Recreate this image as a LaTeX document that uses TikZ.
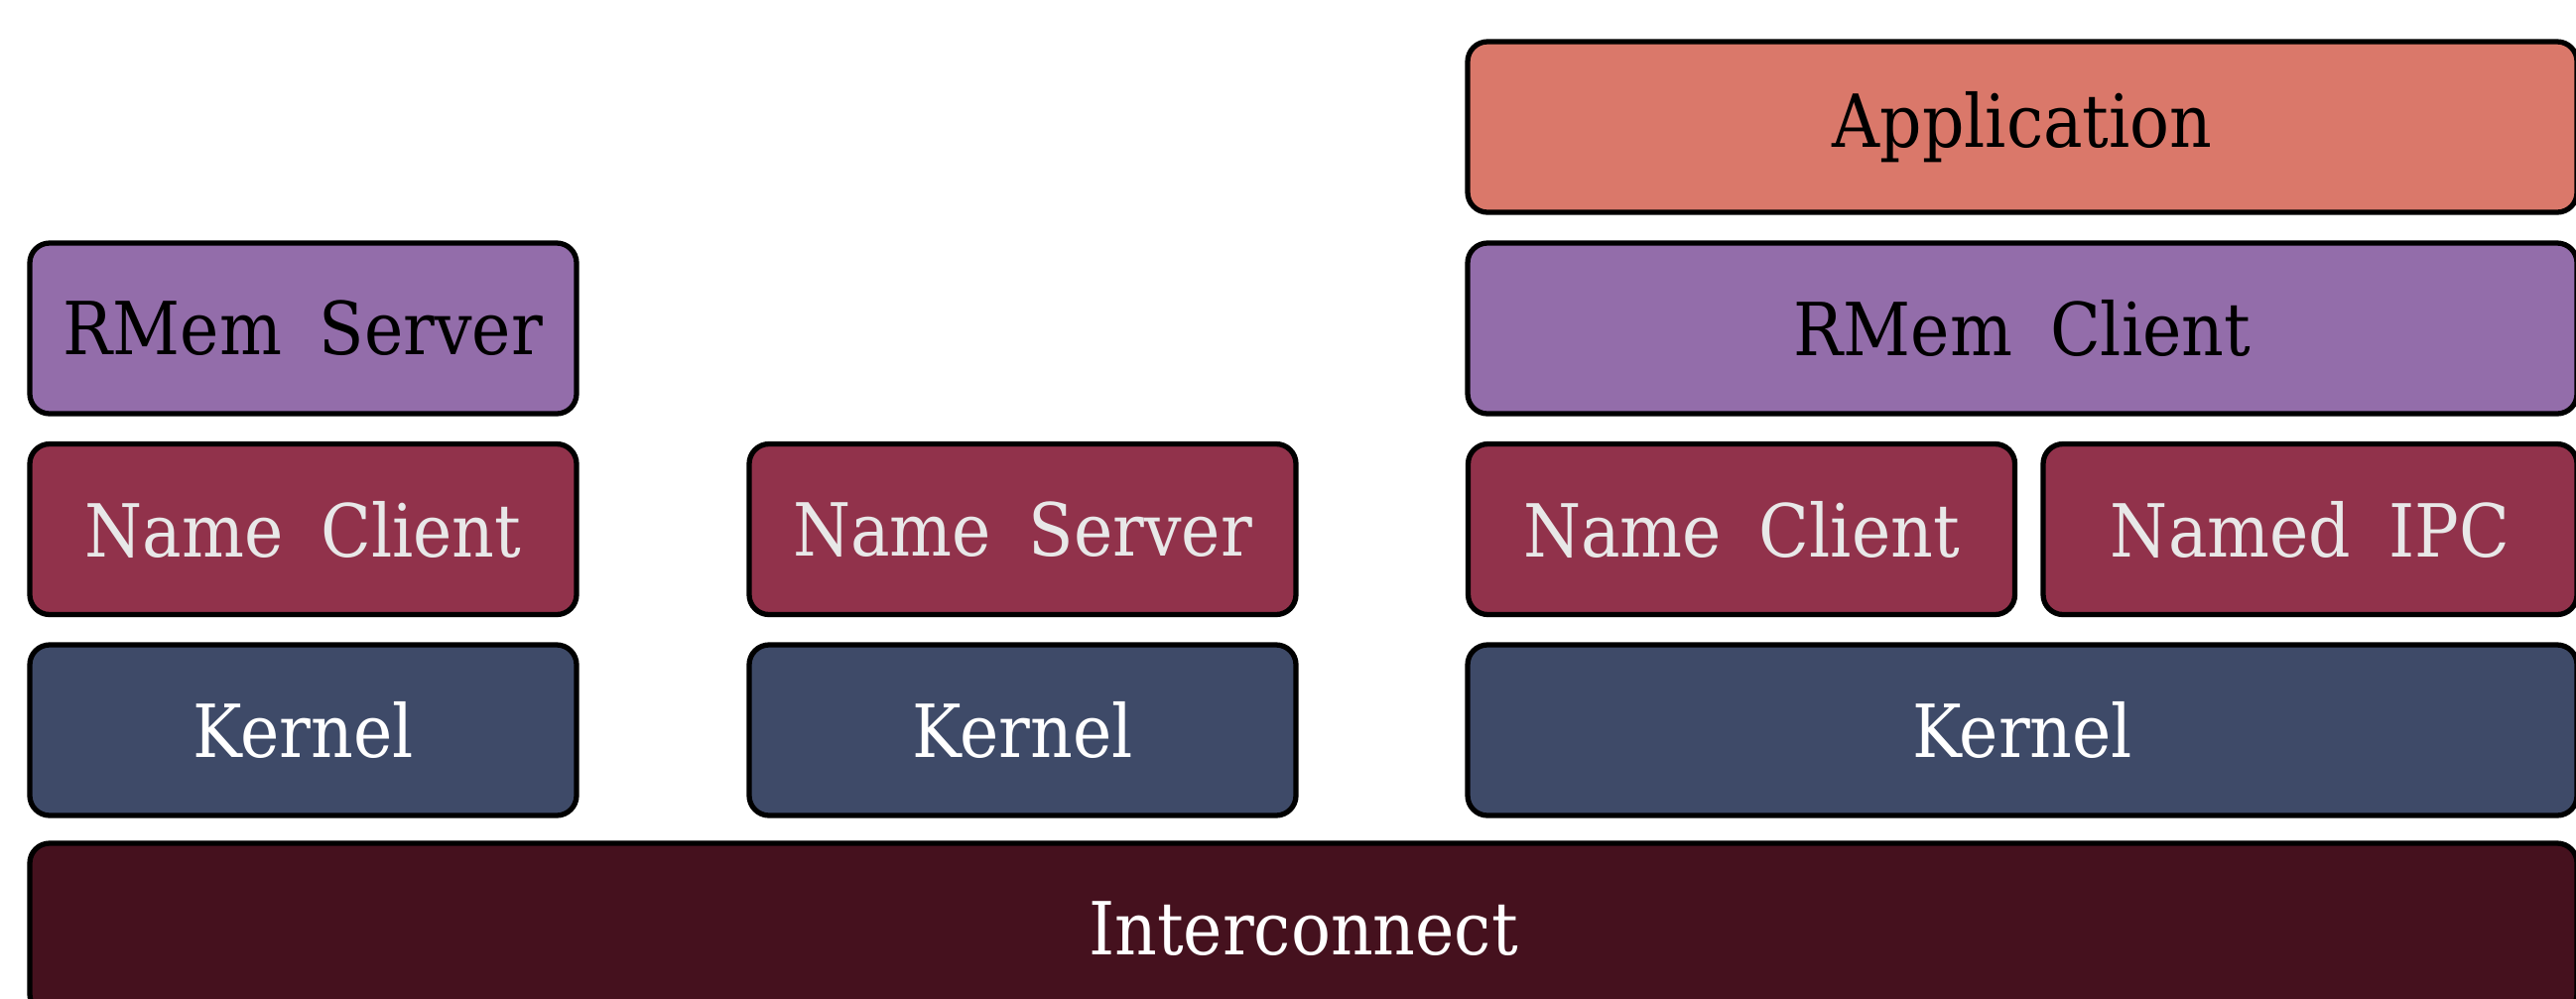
\documentclass[tikz,border=0pt]{standalone}
\usepackage{fontspec}
\setmainfont[WordSpace=1.8]{DejaVu Serif Condensed}
\definecolor{rmem}{HTML}{936DAA}
\definecolor{appl}{HTML}{DA786A}
\definecolor{namec}{HTML}{91324B}
\definecolor{kern}{HTML}{3E4A68}
\definecolor{inter}{HTML}{45111E}
\definecolor{lighttext}{HTML}{E8E8E8}
\tikzset{
  layer/.style={draw=black,line width=1.5pt,rounded corners=0.2cm,
    minimum height=1.72cm,inner sep=0pt,font=\fontsize{21}{25}\selectfont},
  narrow/.style={layer,minimum width=5.51cm},
  darklayer/.style={text=lighttext}
}
\begin{document}
\begin{tikzpicture}
\useasboundingbox (0,0) rectangle (25.96,10.06);
\clip (0,0) rectangle (25.96,10.06);
% left machine
\node[narrow,fill=rmem] (rmemsrv) at (3.055,6.75) {RMem Server};
\node[narrow,fill=namec,darklayer] (nameclA) at (3.055,4.725) {Name Client};
\node[narrow,fill=kern,text=white] (kernA) at (3.055,2.70) {Kernel};
% middle machine
\node[narrow,fill=namec,darklayer] (namesrv) at (10.305,4.725) {Name Server};
\node[narrow,fill=kern,text=white] (kernB) at (10.305,2.70) {Kernel};
% right machine
\node[layer,fill=appl,minimum width=11.18cm] (app) at (20.38,8.78) {Application};
\node[layer,fill=rmem,minimum width=11.18cm] (rmemcl) at (20.38,6.75) {RMem Client};
\node[narrow,fill=namec,darklayer] (nameclC) at (17.55,4.725) {Name Client};
\node[layer,fill=namec,darklayer,minimum width=5.38cm] (namedipc) at (23.28,4.725) {Named IPC};
\node[layer,fill=kern,text=white,minimum width=11.18cm] (kernC) at (20.38,2.70) {Kernel};
% shared bus
\node[layer,fill=inter,text=white,minimum width=25.67cm] (bus) at (13.135,0.70) {Interconnect};
\end{tikzpicture}
\end{document}
